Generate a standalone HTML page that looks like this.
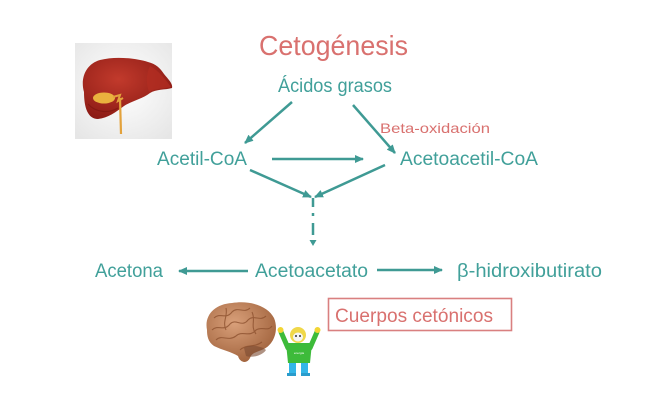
<!DOCTYPE html>
<html>
<head>
<meta charset="utf-8">
<style>
  html,body{margin:0;padding:0;background:#fff;}
  svg{display:block;}
  text{font-family:"Liberation Sans",sans-serif;}
</style>
</head>
<body>
<svg width="650" height="400" viewBox="0 0 650 400" xmlns="http://www.w3.org/2000/svg">
  <defs>
    <marker id="ah" markerWidth="9" markerHeight="8" refX="8" refY="4" orient="auto" markerUnits="userSpaceOnUse">
      <path d="M0,0 L9,4 L0,8 z" fill="#3f9a94"/>
    </marker>
    <radialGradient id="lbg" cx="50%" cy="45%" r="70%">
      <stop offset="0" stop-color="#ffffff"/>
      <stop offset="1" stop-color="#e6e6e6"/>
    </radialGradient>
    <radialGradient id="liv" cx="40%" cy="35%" r="70%">
      <stop offset="0" stop-color="#c23a2c"/>
      <stop offset="1" stop-color="#8a1a14"/>
    </radialGradient>
    <radialGradient id="brn" cx="40%" cy="35%" r="70%">
      <stop offset="0" stop-color="#d9a07a"/>
      <stop offset="1" stop-color="#a0623c"/>
    </radialGradient>
  </defs>

  <!-- Liver image -->
  <rect x="75" y="43" width="97" height="96" fill="url(#lbg)"/>
  <path d="M84,92 C80,78 86,64 100,60 C115,56 135,58 148,62 C156,64 160,68 164,74 C169,80 173,84 172,88 C165,90 156,89 150,93 C142,99 132,101 124,106 C116,112 108,118 98,119 C88,119 84,108 84,92 Z" fill="url(#liv)"/>
  <path d="M150,66 C158,70 166,80 171,87 C163,89 155,88 149,92 C146,84 146,74 150,66 Z" fill="#b32e22" opacity="0.7"/>
  <path d="M88,104 C95,112 108,114 118,108" stroke="#7a140f" stroke-width="1.2" fill="none" opacity="0.6"/>
  <line x1="120" y1="98" x2="121" y2="134" stroke="#e3a23c" stroke-width="2.2"/>
  <ellipse cx="104" cy="98" rx="11" ry="5.5" fill="#eab23e"/>
  <path d="M113,97 L120,95 L118,101 L123,98" stroke="#e3a23c" stroke-width="2" fill="none"/>

  <!-- Title -->
  <text x="259" y="55" font-size="28" fill="#d9716f" textLength="149" lengthAdjust="spacingAndGlyphs">Cetogénesis</text>

  <!-- Nodes -->
  <text x="278" y="92" font-size="19" fill="#41a09a" textLength="114" lengthAdjust="spacingAndGlyphs">Ácidos grasos</text>
  <text x="380" y="133" font-size="14" fill="#d9716f" textLength="110" lengthAdjust="spacingAndGlyphs">Beta-oxidación</text>
  <text x="157" y="165" font-size="19" fill="#41a09a" textLength="90" lengthAdjust="spacingAndGlyphs">Acetil-CoA</text>
  <text x="400" y="165" font-size="19" fill="#41a09a" textLength="138" lengthAdjust="spacingAndGlyphs">Acetoacetil-CoA</text>
  <text x="95" y="277" font-size="19" fill="#41a09a" textLength="68" lengthAdjust="spacingAndGlyphs">Acetona</text>
  <text x="255" y="277" font-size="19" fill="#41a09a" textLength="113" lengthAdjust="spacingAndGlyphs">Acetoacetato</text>
  <text x="457" y="277" font-size="19" fill="#41a09a" textLength="145" lengthAdjust="spacingAndGlyphs">β-hidroxibutirato</text>

  <!-- Arrows -->
  <g stroke="#3f9a94" stroke-width="2.5" fill="none">
    <line x1="292" y1="102" x2="245" y2="143" marker-end="url(#ah)"/>
    <line x1="353" y1="105" x2="395" y2="153" marker-end="url(#ah)"/>
    <line x1="272" y1="159" x2="363" y2="159" marker-end="url(#ah)"/>
    <line x1="250" y1="170" x2="311" y2="197" marker-end="url(#ah)"/>
    <line x1="385" y1="165" x2="315" y2="197" marker-end="url(#ah)"/>
    <line x1="248" y1="271" x2="179" y2="271" marker-end="url(#ah)"/>
    <line x1="377" y1="270" x2="442" y2="270" marker-end="url(#ah)"/>
    <!-- dashed vertical -->
    <line x1="313" y1="198" x2="313" y2="207"/>
    <line x1="313" y1="213" x2="313" y2="216"/>
    <line x1="313" y1="223" x2="313" y2="235"/>
  </g>
  <path d="M309.5,240 L316.5,240 L313,246 z" fill="#3f9a94"/>

  <!-- Cuerpos cetónicos box -->
  <rect x="328.5" y="298.5" width="183" height="32" fill="#fff" stroke="#d98080" stroke-width="1.6"/>
  <text x="335" y="322" font-size="19" fill="#d9716f" textLength="158" lengthAdjust="spacingAndGlyphs">Cuerpos cetónicos</text>

  <!-- Brain -->
  <path d="M207,330 C204,315 215,304 232,303 C250,300 268,306 274,318 C279,330 274,344 264,349 C258,352 252,352 250,358 C247,364 240,363 238,356 C232,352 222,350 214,346 C208,342 207,336 207,330 Z" fill="url(#brn)"/>
  <g stroke="#8a4e2c" stroke-width="1.1" fill="none" opacity="0.75">
    <path d="M214,318 C220,312 226,320 232,312 C238,306 244,314 250,308"/>
    <path d="M212,330 C218,324 224,332 230,324 C236,318 242,328 248,320 C254,314 260,322 266,316"/>
    <path d="M216,340 C222,334 228,342 236,336 C242,330 250,338 256,330 C262,326 268,332 272,326"/>
    <path d="M240,350 C246,344 254,348 262,342"/>
    <path d="M226,308 C228,316 222,322 226,330"/>
    <path d="M252,312 C256,320 250,326 256,334"/>
  </g>
  <path d="M244,348 C250,344 262,346 266,350 C262,356 252,358 246,356 Z" fill="#7a4a30" opacity="0.6"/>

  <!-- Mascot -->
  <g>
    <!-- arms -->
    <path d="M288,348 L281,332" stroke="#3dbb3a" stroke-width="5" stroke-linecap="round"/>
    <path d="M310,348 L317,332" stroke="#3dbb3a" stroke-width="5" stroke-linecap="round"/>
    <circle cx="280.5" cy="330" r="3" fill="#f2d534"/>
    <circle cx="317.5" cy="330" r="3" fill="#f2d534"/>
    <!-- legs -->
    <rect x="289" y="360" width="7" height="15" fill="#33b6e8"/>
    <rect x="301" y="360" width="7" height="15" fill="#33b6e8"/>
    <rect x="287" y="373" width="9" height="3" fill="#2a9ccc"/>
    <rect x="301" y="373" width="9" height="3" fill="#2a9ccc"/>
    <!-- torso -->
    <path d="M286,343 L312,343 L310,363 L288,363 Z" fill="#3dbb3a"/>
    <!-- head -->
    <circle cx="298" cy="335" r="8" fill="#f0d84a"/>
    <ellipse cx="298" cy="337" rx="5" ry="4.5" fill="#f4f4f4"/>
    <circle cx="296" cy="336" r="1" fill="#333"/>
    <circle cx="300" cy="336" r="1" fill="#333"/>
    <text x="299" y="354" font-size="3" fill="#fff" text-anchor="middle">energía</text>
  </g>
</svg>
</body>
</html>
